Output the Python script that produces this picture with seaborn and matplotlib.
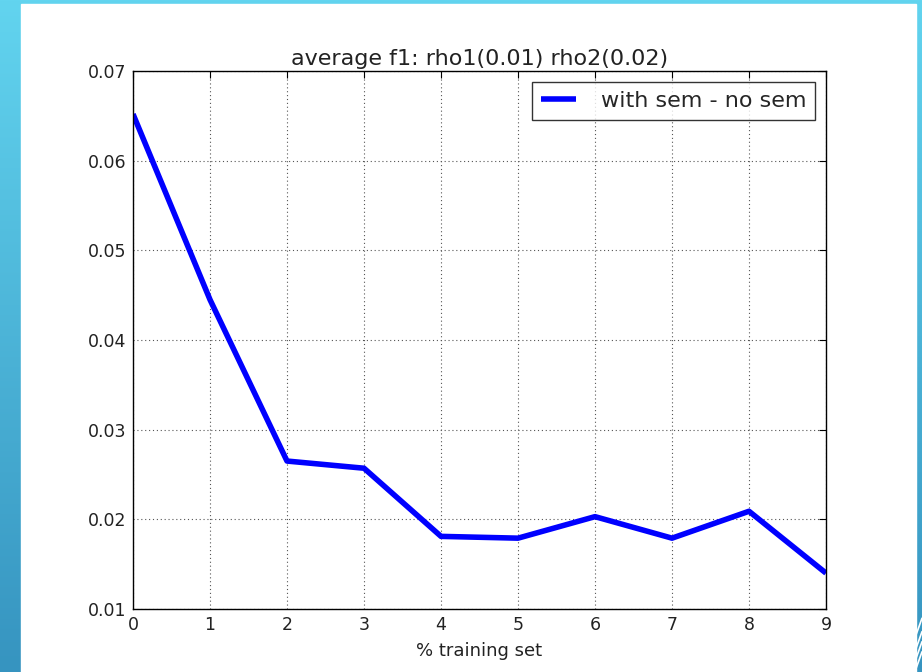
import numpy as np
import pandas as pd
import matplotlib
matplotlib.use("Agg")
import matplotlib.pyplot as plt
import seaborn as sns

x_vals = [0, 1, 2, 3, 4, 5, 6, 7, 8, 9]
diff_vals = [0.0652, 0.0445, 0.0265, 0.0257, 0.0181, 0.0179, 0.0203, 0.0179, 0.0209, 0.0140]
series_name = "with sem - no sem"
title = "average f1: rho1(0.01) rho2(0.02)"
xlabel = "% training set"

df = pd.DataFrame({"x": x_vals, "y": diff_vals, "series": series_name})

sns.set_style("white")
plt.rcParams["font.family"] = ["DejaVu Sans"]

fig = plt.figure(figsize=(9.22, 6.72), dpi=100)

# slide background: gradient frame + white panel
bg = fig.add_axes([0, 0, 1, 1], zorder=-10)
grad = np.linspace(0, 1, 256).reshape(-1, 1)
top = np.array([0x62, 0xd4, 0xef]) / 255
bot = np.array([0x36, 0x94, 0xc0]) / 255
img = top[None, None, :] * (1 - grad[:, :, None]) + bot[None, None, :] * grad[:, :, None]
bg.imshow(img, aspect="auto", extent=[0, 1, 0, 1], origin="upper")
bg.add_patch(plt.Rectangle((21 / 922, 0), (916 - 21) / 922, (672 - 4) / 672, color="white"))
for y0 in [0.055, 0.035, 0.02, 0.005]:
    bg.plot([916 / 922, 1.0], [y0, y0 + 0.025], color="white", lw=1.2)
bg.set_xlim(0, 1)
bg.set_ylim(0, 1)
bg.axis("off")

ax = fig.add_axes([133 / 922, 63 / 672, (826 - 133) / 922, (609 - 71) / 672])
sns.lineplot(data=df, x="x", y="y", hue="series", palette=["#0000ff"], linewidth=4, ax=ax)
for ln in ax.get_lines():
    ln.set_solid_capstyle("butt")

ax.set_xlim(0, 9)
ax.set_ylim(0.01, 0.07)
ax.set_xticks(range(0, 10))
ax.set_yticks([0.01, 0.02, 0.03, 0.04, 0.05, 0.06, 0.07])
ax.set_yticklabels(["0.01", "0.02", "0.03", "0.04", "0.05", "0.06", "0.07"])
ax.grid(True, linestyle=(0, (1, 2.5)), color="#555555", linewidth=0.8)
ax.tick_params(direction="in", top=True, right=True, length=5, labelsize=12.5, colors="black", pad=5)
for lbl in ax.get_xticklabels() + ax.get_yticklabels():
    lbl.set_color("#222222")
for s in ax.spines.values():
    s.set_color("black")
    s.set_linewidth(1.0)
ax.set_xlabel(xlabel, fontsize=13, color="#222222", labelpad=6)
ax.set_ylabel("")
ax.set_title(title, fontsize=16, pad=4, color="#222222")
leg = ax.legend(loc="upper right", fontsize=16, frameon=True, fancybox=False,
                edgecolor="black", handlelength=1.6, borderpad=0.4, handletextpad=1.1,
                borderaxespad=0.5)
leg.get_frame().set_linewidth(1.0)
for ln in leg.get_lines():
    ln.set_solid_capstyle("butt")

fig.savefig("out.png", dpi=100)
